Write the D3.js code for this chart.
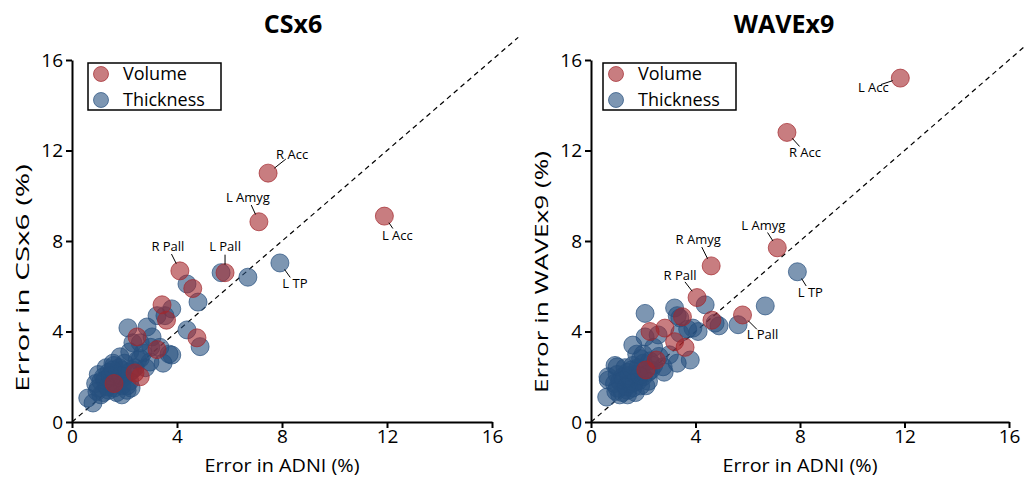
<!DOCTYPE html>
<html>
<head>
<meta charset="utf-8">
<script src="https://cdn.jsdelivr.net/npm/d3@7"></script>
<style>
  body { margin: 0; background: #fff; }
  text { font-family: "Open Sans", "Noto Sans", sans-serif; }
</style>
</head>
<body>
<svg id="chart" width="1024" height="478"></svg>
<script>
// ---------------- data (error %, [ADNI, other]) ----------------
var ticks = [0, 4, 8, 12, 16];
var seriesNames = ["Volume", "Thickness"];

var csx6Volume = [[7.47,11.0],[7.12,8.85],[11.9,9.1],[4.11,6.68],[5.83,6.6],[4.6,5.9],[3.43,5.18],
  [3.6,4.5],[4.76,3.72],[2.48,3.76],[3.24,3.2],[2.4,2.17],[2.6,2.0],[1.6,1.7]];
var csx6Thickness = [[7.92,7.03],[6.7,6.4],[5.68,6.6],[4.38,6.1],[4.8,5.3],[3.8,5.0],[3.54,4.7],[3.24,4.7],
  [2.13,4.16],[2.86,4.2],[4.38,4.07],[4.88,3.33],[2.32,3.5],[3.05,3.76],[3.35,3.3],[3.8,2.96],[3.7,3.0],
  [2.7,3.05],[2.2,3.1],[3.47,2.6],[2.97,2.65],[2.5,2.74],[1.83,2.88],[1.56,2.6],[2.1,1.4],[0.6,1.06],
  [0.8,0.84],[3.0,3.3],[2.6,3.5],[1.9,2.3],[1.0,1.5],[1.1,1.8],[1.2,2.0],[1.3,1.6],[1.4,2.2],[1.5,1.9],
  [1.6,1.5],[1.7,2.1],[1.8,1.8],[1.9,1.6],[2.0,2.0],[2.2,1.8],[2.3,2.3],[1.2,1.3],[1.4,1.4],[1.0,2.1],
  [0.9,1.7],[1.3,2.4],[1.6,2.5],[1.8,2.4],[2.0,2.6],[2.2,2.2],[1.5,1.7],[1.7,1.3],[2.1,1.6],[1.1,1.2],
  [1.25,1.85],[1.45,2.05],[1.65,1.75],[1.85,2.05],[2.4,2.4],[2.6,2.8],[1.9,1.2],[1.35,1.55],[1.55,2.3],
  [2.25,1.5],[0.95,1.35],[2.8,2.4]];

var waveVolume = [[11.84,15.2],[7.5,12.8],[7.13,7.7],[4.6,6.9],[4.06,5.5],[5.8,4.73],[3.5,4.65],
  [4.63,4.5],[2.83,4.15],[2.26,4.0],[3.2,3.55],[3.6,3.3],[2.5,2.74],[2.1,2.3]];
var waveThickness = [[7.9,6.64],[6.67,5.13],[5.63,4.3],[4.37,5.18],[3.2,5.04],[3.3,4.7],[2.07,4.8],
  [3.4,4.6],[4.75,4.37],[4.9,4.25],[3.9,4.15],[2.57,3.85],[3.4,3.93],[3.8,2.74],[3.3,2.6],[2.76,2.44],
  [3.0,2.97],[1.6,3.4],[0.6,1.1],[1.4,1.2],[4.1,4.0],[3.7,4.1],[2.4,3.3],[2.0,3.0],[0.92,2.5],[0.65,2.0],
  [0.66,1.85],[1.0,2.44],[2.07,3.76],[1.0,1.5],[1.1,1.8],[1.2,2.0],[1.3,1.6],[1.4,2.2],[1.5,1.9],[1.6,1.5],
  [1.7,2.1],[1.8,1.8],[1.9,1.6],[2.0,2.0],[2.2,1.8],[2.3,2.3],[1.2,1.3],[1.4,1.4],[1.0,2.1],[0.9,1.7],
  [1.3,2.4],[1.6,2.5],[1.8,2.4],[2.0,2.6],[2.2,2.2],[1.5,1.7],[1.7,1.3],[2.1,1.6],[1.1,1.2],[1.25,1.85],
  [1.45,2.05],[1.65,1.75],[1.85,2.05],[2.4,2.5],[2.6,2.9],[1.9,2.8],[1.35,1.55],[1.55,2.3],[2.25,2.7],
  [0.95,1.35],[2.8,2.2],[1.75,3.0]];

// labelled regions: series, index into that series
var csx6Labels = [["R Acc","v",0],["L Amyg","v",1],["L Acc","v",2],["R Pall","v",3],["L Pall","v",4],["L TP","t",0]];
var waveLabels = [["L Acc","v",0],["R Acc","v",1],["L Amyg","v",2],["R Amyg","v",3],["R Pall","v",4],["L Pall","v",5],["L TP","t",0]];

// ---------------- layout ----------------
// label text offsets (px) from the point centre
var labelOffsets = {
  csx6: {"R Acc":[24,-19], "L Amyg":[-11,-24], "L Acc":[13,19], "R Pall":[-12,-24], "L Pall":[0,-26], "L TP":[15,21]},
  wave: {"L Acc":[-27,9], "R Acc":[18,20], "L Amyg":[-14,-22], "R Amyg":[-13,-26], "R Pall":[-17,-22], "L Pall":[20,20], "L TP":[13,21]}
};

var colors = { v: "#a3262c", t: "#26507f" };
var svg = d3.select("#chart");

var panels = [
  { key: "csx6", title: "CSx6", titleX: 293, ylab: "Error in CSx6 (%)", ylabX: 29, ylabY: 278, ylabLen: 228,
    left: 72, right: 492, vol: csx6Volume, thick: csx6Thickness, labels: csx6Labels, legendX: 88 },
  { key: "wave", title: "WAVEx9", titleX: 784, ylab: "Error in WAVEx9 (%)", ylabX: 548, ylabY: 272, ylabLen: 242,
    left: 591, right: 1009, vol: waveVolume, thick: waveThickness, labels: waveLabels, legendX: 603 }
];

panels.forEach(function(p) {
  var x = d3.scaleLinear().domain([0, 16]).range([p.left, p.right]);
  var y = d3.scaleLinear().domain([0, 16]).range([422, 60]);
  var g = svg.append("g");

  // title
  g.append("text").attr("x", p.titleX).attr("y", 33).attr("text-anchor", "middle")
    .style("font-size", "25px").style("font-weight", "bold").text(p.title);

  // identity line
  g.append("line")
    .attr("x1", x(0)).attr("y1", y(0)).attr("x2", x(17)).attr("y2", y(17))
    .attr("stroke", "#000").attr("stroke-width", 1.2).attr("stroke-dasharray", "5,4");

  // axes
  var ax = g.append("g").attr("transform", "translate(0," + y(0) + ")")
    .call(d3.axisBottom(x).tickValues(ticks).tickSize(6).tickSizeOuter(0).tickPadding(2));
  var ay = g.append("g").attr("transform", "translate(" + x(0) + ",0)")
    .call(d3.axisLeft(y).tickValues(ticks).tickSize(6).tickSizeOuter(0).tickPadding(3));
  [ax, ay].forEach(function(a) {
    a.select(".domain").attr("stroke", "#000").attr("stroke-width", 2);
    a.selectAll(".tick line").attr("stroke", "#000").attr("stroke-width", 2);
    a.selectAll(".tick text").attr("fill", "#000").style("font-size", "19px")
      .style("font-family", "'Open Sans', sans-serif");
  });

  // axis titles
  g.append("text").attr("x", (p.left + p.right) / 2).attr("y", 472).attr("text-anchor", "middle")
    .attr("textLength", 155).attr("lengthAdjust", "spacingAndGlyphs")
    .style("font-size", "18px").text("Error in ADNI (%)");
  g.append("text").attr("transform", "translate(" + p.ylabX + "," + p.ylabY + ") rotate(-90)")
    .attr("text-anchor", "middle").attr("textLength", p.ylabLen).attr("lengthAdjust", "spacingAndGlyphs")
    .style("font-size", "18px").text(p.ylab);

  // points
  function dots(data, c) {
    g.append("g").selectAll("circle").data(data).join("circle")
      .attr("cx", function(d) { return x(d[0]); })
      .attr("cy", function(d) { return y(d[1]); })
      .attr("r", 9)
      .attr("fill", c).attr("fill-opacity", 0.6)
      .attr("stroke", c).attr("stroke-opacity", 0.7).attr("stroke-width", 1);
  }
  dots(p.thick, colors.t);
  dots(p.vol, colors.v);

  // labels with leader lines
  p.labels.forEach(function(l) {
    var d = (l[1] === "v" ? p.vol : p.thick)[l[2]];
    var off = labelOffsets[p.key][l[0]];
    var cx = x(d[0]), cy = y(d[1]);
    var len = Math.sqrt(off[0] * off[0] + off[1] * off[1]);
    var ux = off[0] / len, uy = off[1] / len;
    g.append("line")
      .attr("x1", cx + ux * 8).attr("y1", cy + uy * 8)
      .attr("x2", cx + ux * (len - 8)).attr("y2", cy + uy * (len - 8))
      .attr("stroke", "#000").attr("stroke-width", 1);
    g.append("text").attr("x", cx + off[0]).attr("y", cy + off[1] + 4.5)
      .attr("text-anchor", "middle").style("font-size", "13px").text(l[0]);
  });

  // legend
  var lg = g.append("g");
  lg.append("rect").attr("x", p.legendX).attr("y", 63).attr("width", 133).attr("height", 47)
    .attr("fill", "#fff").attr("stroke", "#000").attr("stroke-width", 1.5);
  seriesNames.forEach(function(s, i) {
    var c = i === 0 ? colors.v : colors.t;
    lg.append("circle").attr("cx", p.legendX + 13).attr("cy", 74 + i * 26).attr("r", 7.5)
      .attr("fill", c).attr("fill-opacity", 0.6).attr("stroke", c).attr("stroke-opacity", 0.7);
    lg.append("text").attr("x", p.legendX + 35).attr("y", 80 + i * 26)
      .style("font-size", "18px").text(s);
  });
});
</script>
</body>
</html>
